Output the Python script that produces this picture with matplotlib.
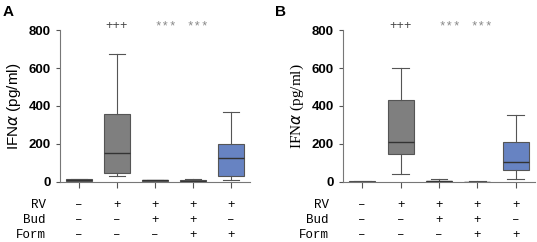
import matplotlib
matplotlib.use('Agg')
import matplotlib.pyplot as plt
from matplotlib.transforms import blended_transform_factory

# box stats (pg/ml)
# panel A
a_q1 = [5, 45, 3, 3, 30]
a_med = [10, 155, 8, 7, 125]
a_q3 = [15, 360, 12, 12, 200]
a_lo = [3, 30, 2, 2, 10]
a_hi = [18, 675, 13, 18, 370]
# panel B
b_q1 = [0, 148, 2, 0, 65]
b_med = [1, 212, 4, 1, 105]
b_q3 = [3, 430, 6, 2, 210]
b_lo = [0, 40, 1, 0, 15]
b_hi = [3, 600, 18, 3, 355]

box_colors = ['#b4b4b4', '#7f7f7f', '#c8735f', '#55557c', '#6783c2']
row_names = ['RV', 'Bud', 'Form']
rv = ['–', '+', '+', '+', '+']
bud = ['–', '–', '+', '+', '–']
form = ['–', '–', '–', '+', '+']
marks = ['+++', '***', '***']
mark_x = [1, 2.29, 3.12]
mark_col = ['#444444', '#888888', '#888888']
yticks = [0, 200, 400, 600, 800]

MONO = ['Liberation Mono', 'DejaVu Sans Mono']


def panel(ax, q1, med, q3, lo, hi, ylab_font):
    stats = []
    for i in range(5):
        stats.append(dict(q1=q1[i], med=med[i], q3=q3[i], whislo=lo[i],
                          whishi=hi[i], fliers=[]))
    bp = ax.bxp(stats, positions=range(5), widths=0.68, patch_artist=True,
                showfliers=False,
                boxprops=dict(edgecolor='#555555', linewidth=0.8),
                medianprops=dict(color='#333333', linewidth=1),
                whiskerprops=dict(color='#555555', linewidth=0.8),
                capprops=dict(color='#555555', linewidth=0.8))
    for patch, c in zip(bp['boxes'], box_colors):
        patch.set_facecolor(c)
    for cap in bp['caps']:
        x = cap.get_xdata()
        cap.set_xdata([x[0] - 0.05, x[1] + 0.05])

    ax.set_xlim(-0.5, 4.5)
    ax.set_ylim(0, 800)
    ax.set_yticks(yticks)
    ax.set_yticklabels([str(v) for v in yticks], fontsize=9.5,
                       fontweight='bold', family='Liberation Sans')
    ax.set_xticks(range(5))
    ax.set_xticklabels([])
    ax.tick_params(axis='x', direction='out', length=4, color='#555555')
    ax.tick_params(axis='y', direction='out', length=3, color='#555555')
    for s in ['top', 'right']:
        ax.spines[s].set_visible(False)
    for s in ['left', 'bottom']:
        ax.spines[s].set_color('#777777')
        ax.spines[s].set_linewidth(0.8)
    ax.set_ylabel('IFN$\\alpha$ (pg/ml)', fontsize=11, family=ylab_font,
                  labelpad=4)

    tr = blended_transform_factory(ax.transData, ax.transAxes)
    for m, mx, mc in zip(marks, mark_x, mark_col):
        ax.text(mx, 1.025, m, transform=tr, ha='center', va='center',
                fontsize=9, color=mc, family=MONO)
    rows = [rv, bud, form]
    for r, (name, vals) in enumerate(zip(row_names, rows)):
        yy = -0.15 - r * 0.1
        ax.text(-0.87, yy, name, transform=tr, ha='right', va='center',
                fontsize=9, family=MONO)
        for i, v in enumerate(vals):
            ax.text(i, yy, v, transform=tr, ha='center', va='center',
                    fontsize=9, family=MONO)


fig = plt.figure(figsize=(5.37, 2.42), dpi=100)
ax1 = fig.add_axes([60 / 537, 0.248, 190 / 537, 0.628])
ax2 = fig.add_axes([343 / 537, 0.248, 192 / 537, 0.628])
panel(ax1, a_q1, a_med, a_q3, a_lo, a_hi, 'Liberation Sans')
panel(ax2, b_q1, b_med, b_q3, b_lo, b_hi, 'Liberation Serif')

fig.text(3 / 537, 1 - 12 / 242, 'A', fontsize=11, fontweight='bold',
         family='Liberation Sans', va='center')
fig.text(275 / 537, 1 - 12 / 242, 'B', fontsize=11, fontweight='bold',
         family='Liberation Sans', va='center')

fig.savefig('out.png', dpi=100)
